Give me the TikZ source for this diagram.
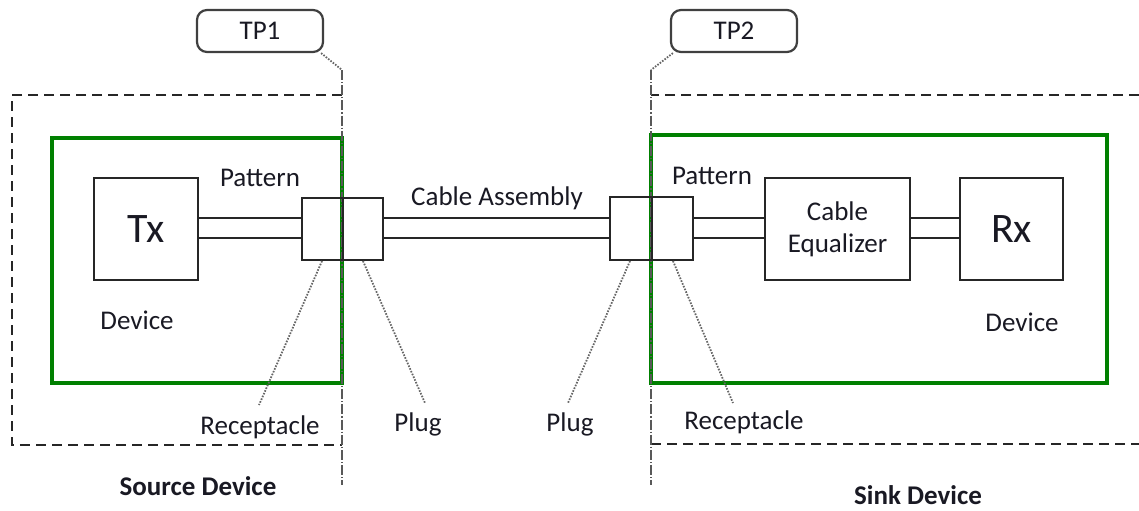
\documentclass[tikz,border=0pt]{standalone}
\usepackage{fontspec}
\setmainfont{Carlito}
\usetikzlibrary{calc}
\definecolor{grn}{RGB}{0,128,0}
\definecolor{txt}{RGB}{25,25,35}
\begin{document}
\begin{tikzpicture}[x=0.5pt,y=-0.5pt,
  lbl/.style={text=txt,font=\fontsize{13.5pt}{16pt}\selectfont,inner sep=0pt},
  bold/.style={lbl,font=\fontsize{13.5pt}{16pt}\selectfont\bfseries},
  big/.style={text=txt,font=\fontsize{21pt}{24pt}\selectfont,inner sep=0pt},
  blk/.style={draw=black!85,line width=1pt,inner sep=0pt},
  tpbox/.style={draw=black!75,line width=1.1pt,rounded corners=5pt,inner sep=0pt,minimum width=63pt,minimum height=21pt,text=txt,font=\fontsize{13.5pt}{16pt}\selectfont},
  grnbox/.style={draw=grn,line width=1.7pt},
  dsh/.style={draw=black!85,line width=0.8pt,dash pattern=on 5pt off 3pt},
  tpline/.style={draw=black!65,line width=0.9pt,dash pattern=on 5pt off 1pt on 0.6pt off 1pt},
  lead/.style={draw=black!60,line width=0.9pt,dash pattern=on 0.8pt off 0.7pt},
  wire/.style={draw=black!85,line width=1pt}]
\useasboundingbox (0,0) rectangle (1139,510);

% dashed device outlines
\draw[dsh] (342,95) -- (12,95) -- (12,445) -- (342,445);
\draw[dsh] (1139,95) -- (651,95);
\draw[dsh] (651,444) -- (1139,444);

% green boxes
\draw[grnbox] (52,138) rectangle (342,383);
\draw[grnbox] (651,135) rectangle (1107,383);

% test point boxes and lines
\node[tpbox] (tp1) at (260,31) {TP1};
\node[tpbox] (tp2) at (734,31) {TP2};
\coordinate (k1) at (342,70);
\coordinate (e1) at (342,485);
\coordinate (k2) at (651,70);
\coordinate (e2) at (651,485);
\draw[lead] (tp1.south east) ++(-3,0) -- (k1);
\draw[lead] (tp2.south west) ++(3,0) -- (k2);
\draw[tpline] (k1) -- (e1);
\draw[tpline] (k2) -- (e2);

% boxes
\node[blk,minimum width=52pt,minimum height=51pt] (tx) at (146,229) {};
\node[big] at (tx.center) {Tx};
\node[blk,minimum width=40.5pt,minimum height=31pt] (lc) at (342.5,229) {};
\node[blk,minimum width=41.5pt,minimum height=31.5pt] (rc) at (651.5,228.5) {};
\node[blk,minimum width=72.5pt,minimum height=51pt,text=txt,font=\fontsize{13.5pt}{16pt}\selectfont,align=center] (eq) at (837.5,229) {Cable\\Equalizer};
\node[blk,minimum width=51.5pt,minimum height=51pt] (rx) at (1011.5,229) {};
\node[big] at (rx.center) {Rx};
\draw[wire] (lc.north) -- (lc.south);
\draw[wire] (rc.north) -- (rc.south);

% wires
\foreach \yy in {218,238} {
  \draw[wire] (tx.east |- 0,\yy) -- (lc.west |- 0,\yy);
  \draw[wire] (lc.east |- 0,\yy) -- (rc.west |- 0,\yy);
  \draw[wire] (rc.east |- 0,\yy) -- (eq.west |- 0,\yy);
  \draw[wire] (eq.east |- 0,\yy) -- (rx.west |- 0,\yy);
}

% labels
\node[lbl] (patL) at (260,178) {Pattern};
\node[lbl] (patR) at (712,176) {Pattern};
\node[lbl] (cab) at (497,198) {Cable Assembly};
\node[lbl] (devL) at (137,320) {Device};
\node[lbl] (devR) at (1022,322) {Device};
\node[lbl] (recL) at (260,427) {Receptacle};
\node[lbl] (plugL) at (418,424) {Plug};
\node[lbl] (plugR) at (570,424) {Plug};
\node[lbl] (recR) at (744,422) {Receptacle};
\node[bold] (src) at (198,486) {Source Device};
\node[bold] (snk) at (918,495) {Sink Device};

% leaders
\coordinate (a1) at (259,405);
\coordinate (a2) at (425,403);
\coordinate (a3) at (568,403);
\coordinate (a4) at (733,403);
\draw[lead] (lc.south -| 322,0) -- (a1);
\draw[lead] (lc.south -| 363,0) -- (a2);
\draw[lead] (rc.south -| 630,0) -- (a3);
\draw[lead] (rc.south -| 673,0) -- (a4);
\end{tikzpicture}
\end{document}
